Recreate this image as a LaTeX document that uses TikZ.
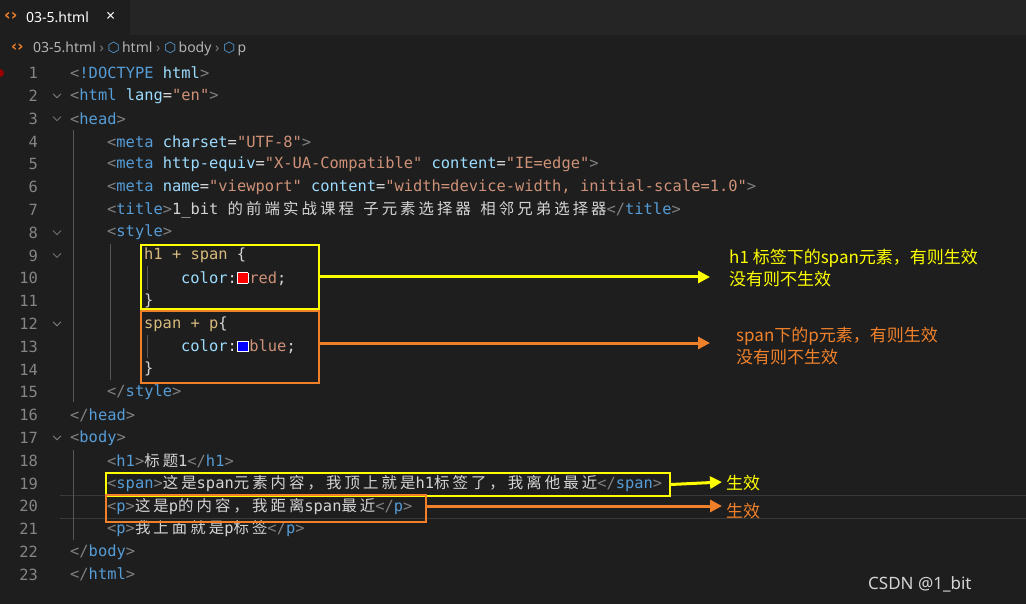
\documentclass[tikz,border=0pt]{standalone}
\usepackage{fontspec}
\setmonofont{DejaVu Sans Mono}
\setmainfont{Noto Sans}
\newfontfamily\cjk{Noto Sans CJK SC}
\newfontfamily\cjkcode[LetterSpace=20]{Noto Sans CJK SC}
\newfontfamily\dvs{DejaVu Sans}
\usetikzlibrary{arrows.meta}
\definecolor{bg}{HTML}{1E1E1E}
\definecolor{tabbar}{HTML}{252526}
\definecolor{br}{HTML}{808080}
\definecolor{tg}{HTML}{569CD6}
\definecolor{at}{HTML}{9CDCFE}
\definecolor{st}{HTML}{CE9178}
\definecolor{tx}{HTML}{D4D4D4}
\definecolor{sel}{HTML}{D7BA7D}
\definecolor{ln}{HTML}{858585}
\definecolor{yel}{HTML}{FFFF00}
\definecolor{org}{HTML}{F0812A}
\newcommand{\B}[1]{\textcolor{br}{#1}}
\newcommand{\T}[1]{\textcolor{tg}{#1}}
\newcommand{\A}[1]{\textcolor{at}{#1}}
\newcommand{\Sv}[1]{\textcolor{st}{#1}}
\newcommand{\Sl}[1]{\textcolor{sel}{#1}}
\newcommand{\C}[1]{{\cjkcode #1}}
\newcommand{\sw}[1]{{\fboxsep=0pt\fboxrule=0.8pt\fcolorbox{white}{#1}{\rule{0pt}{10pt}\hspace{10pt}}}\hspace{1pt}}
\newcommand{\cube}{{\dvs\textcolor{tg}{⬡}}}
\begin{document}
\begin{tikzpicture}[x=1pt,y=-1pt,
  code/.style={anchor=west,inner sep=0pt,text=tx,font=\ttfamily\fontsize{15.4}{18}\selectfont},
  lnum/.style={anchor=east,inner sep=0pt,text=ln,font=\ttfamily\fontsize{15.4}{18}\selectfont},
  note/.style={anchor=west,inner sep=0pt,font=\cjk\fontsize{17}{22}\selectfont,align=left},
  ybox/.style={draw=yel,line width=2pt,inner sep=0pt,anchor=north west},
  obox/.style={draw=org,line width=2pt,inner sep=0pt,anchor=north west},
  yarr/.style={draw=yel,line width=3pt,-{Triangle[length=12pt,width=12pt]}},
  oarr/.style={draw=org,line width=3pt,-{Triangle[length=12pt,width=12pt]}},
  chev/.style={draw=br,line width=0.8pt},
  guide/.style={draw=white!25!bg,line width=0.6pt}]
\fill[bg] (0,0) rectangle (1026,604);
\useasboundingbox (0,0) rectangle (1026,604);
\fill[tabbar] (0,0) rectangle (1026,35);
\fill[bg] (0,0) rectangle (130,35);
\node[anchor=west,inner sep=0pt,text=org,font=\dvs\bfseries\fontsize{16}{16}\selectfont] (ti) at (4,16) {‹›};
\node[anchor=west,inner sep=0pt,text=white,font=\fontsize{14}{16}\selectfont] (tn) at (26,17) {03-5.html};
\node[anchor=west,inner sep=0pt,text=white,font=\fontsize{16}{16}\selectfont] (tx) at (106,17) {×};
\node[anchor=west,inner sep=0pt,text=org,font=\dvs\bfseries\fontsize{15}{15}\selectfont] (bi) at (11,48) {‹›};
\node[anchor=west,inner sep=0pt,text=tx!85!black,font=\fontsize{14}{16}\selectfont] (bc) at (33,49) {03-5.html \textcolor{br}{›} \cube\,html \textcolor{br}{›} \cube\,body \textcolor{br}{›} \cube\,p};
\fill[red!60!black] (0,73) circle (4);
\draw[white!12!bg,line width=1pt] (60,495) -- (1026,495) (60,518) -- (1026,518);
\draw[guide] (73,130) -- (73,402) (110,244) -- (110,380) (73,450) -- (73,540);
\draw[guide] (147,266) -- (147,290) (147,335) -- (147,358);
\foreach \n in {1,...,23}{
  \node[lnum] (n\n) at (38,{73+(\n-1)*22.8}) {\n};
}
\foreach \n in {2,3,8,9,12,17}{
  \draw[chev] (53,{71+(\n-1)*22.8}) -- (57,{75+(\n-1)*22.8}) -- (61,{71+(\n-1)*22.8});
}
\node[code] (l1) at (70,73) {\B{<}\T{!DOCTYPE} \A{html}\B{>}};
\node[code] (l2) at (70,95.8) {\B{<}\T{html} \A{lang}=\Sv{"en"}\B{>}};
\node[code] (l3) at (70,118.6) {\B{<}\T{head}\B{>}};
\node[code] (l4) at (107,141.4) {\B{<}\T{meta} \A{charset}=\Sv{"UTF-8"}\B{>}};
\node[code] (l5) at (107,164.2) {\B{<}\T{meta} \A{http-equiv}=\Sv{"X-UA-Compatible"} \A{content}=\Sv{"IE=edge"}\B{>}};
\node[code] (l6) at (107,187) {\B{<}\T{meta} \A{name}=\Sv{"viewport"} \A{content}=\Sv{"width=device-width, initial-scale=1.0"}\B{>}};
\node[code] (l7) at (107,209.8) {\B{<}\T{title}\B{>}1\_bit \C{的前端实战课程} \C{子元素选择器} \C{相邻兄弟选择器}\B{</}\T{title}\B{>}};
\node[code] (l8) at (107,232.6) {\B{<}\T{style}\B{>}};
\node[code] (l9) at (144,255.4) {\Sl{h1 + span} \{};
\node[code] (l10) at (181,278.2) {\A{color}:\sw{red}\Sv{red};};
\node[code] (l11) at (144,301) {\}};
\node[code] (l12) at (144,323.8) {\Sl{span + p}\{};
\node[code] (l13) at (181,346.6) {\A{color}:\sw{blue}\Sv{blue};};
\node[code] (l14) at (144,369.4) {\}};
\node[code] (l15) at (107,392.2) {\B{</}\T{style}\B{>}};
\node[code] (l16) at (70,415) {\B{</}\T{head}\B{>}};
\node[code] (l17) at (70,437.8) {\B{<}\T{body}\B{>}};
\node[code] (l18) at (107,460.6) {\B{<}\T{h1}\B{>}\C{标题}1\B{</}\T{h1}\B{>}};
\node[code] (l19) at (107,483.4) {\B{<}\T{span}\B{>}\C{这是}span\C{元素内容，我顶上就是}h1\C{标签了，我离他最近}\B{</}\T{span}\B{>}};
\node[code] (l20) at (107,506.2) {\B{<}\T{p}\B{>}\C{这是}p\C{的内容，我距离}span\C{最近}\B{</}\T{p}\B{>}};
\node[code] (l21) at (107,529) {\B{<}\T{p}\B{>}\C{我上面就是}p\C{标签}\B{</}\T{p}\B{>}};
\node[code] (l22) at (70,551.8) {\B{</}\T{body}\B{>}};
\node[code] (l23) at (70,574.6) {\B{</}\T{html}\B{>}};
\node[ybox,minimum width=178pt,minimum height=64pt] (b1) at (140,244) {};
\node[obox,minimum width=178pt,minimum height=72pt] (b2) at (140,310) {};
\node[ybox,minimum width=564pt,minimum height=23pt] (b3) at (105,472) {};
\node[obox,minimum width=320pt,minimum height=27pt] (b4) at (105,494) {};
\coordinate (e1) at (710,277);
\coordinate (e2) at (710,343);
\coordinate (e3) at (722,482);
\coordinate (e4) at (722,506);
\draw[yarr] (b1.east) -- (e1);
\draw[oarr] (b2.east |- e2) -- (e2);
\draw[yarr] (b3.east) -- (e3);
\draw[oarr] (b4.east |- e4) -- (e4);
\node[note,text=yel] (t1) at (729,268) {h1 标签下的span元素，有则生效\\没有则不生效};
\node[note,text=org] (t2) at (736,346) {span下的p元素，有则生效\\没有则不生效};
\node[note,text=yel] (t3) at (726,483) {生效};
\node[note,text=org] (t4) at (726,511) {生效};
\node[anchor=west,inner sep=0pt,text=tx,font=\fontsize{17}{18}\selectfont] (cs) at (868,584) {CSDN @1\_bit};
\end{tikzpicture}
\end{document}
